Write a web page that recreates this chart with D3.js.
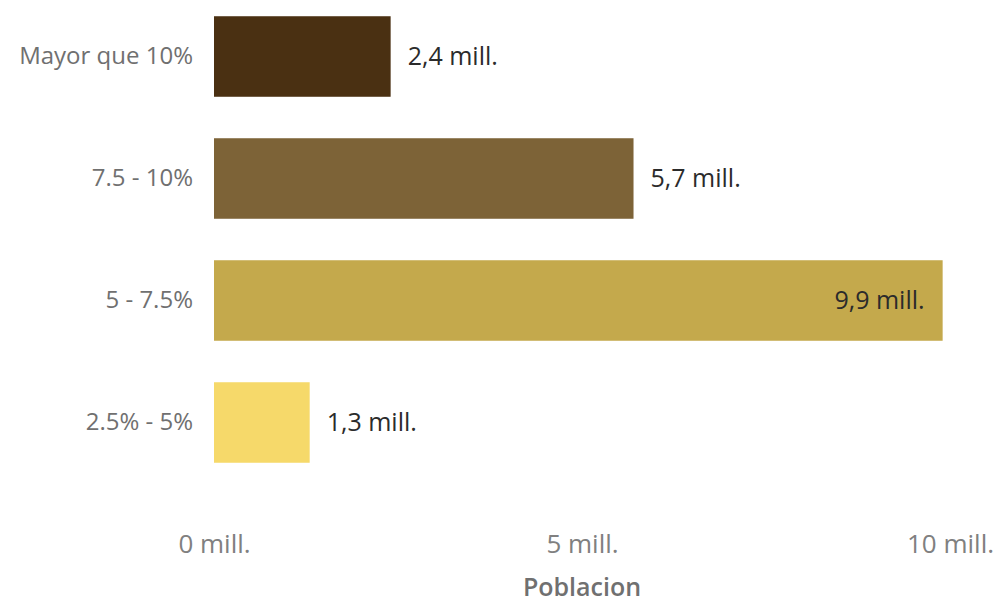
<!DOCTYPE html>
<html><head><meta charset="utf-8">
<script src="https://cdn.jsdelivr.net/npm/d3@7"></script>
<style>
html,body{margin:0;padding:0;background:#fff;}
svg{display:block;font-family:"Open Sans","Noto Sans",sans-serif;}
</style></head>
<body><svg id="chart" width="995" height="604"></svg>
<script>
const categories = ["Mayor que 10%", "7.5 - 10%", "5 - 7.5%", "2.5% - 5%"];
const values = [2.4, 5.7, 9.9, 1.3];
const valueLabels = ["2,4 mill.", "5,7 mill.", "9,9 mill.", "1,3 mill."];
const colors = ["#4a3012", "#7d6337", "#c4a94c", "#f6d96a"];
const tickValues = [0, 5, 10];
const tickLabels = ["0 mill.", "5 mill.", "10 mill."];
const axisTitle = "Poblacion";

const svg = d3.select("#chart");
const x = d3.scaleLinear().domain([0, 10]).range([214, 950]);
const y = d3.scaleBand().domain(categories).range([-4.5, 483.5]).paddingInner(0.34).paddingOuter(0.17);

svg.append("g").selectAll("rect").data(values).join("rect")
  .attr("x", x(0))
  .attr("y", (d, i) => y(categories[i]))
  .attr("width", d => x(d) - x(0))
  .attr("height", y.bandwidth())
  .attr("fill", (d, i) => colors[i]);

// value labels
svg.append("g").selectAll("text").data(values).join("text")
  .attr("x", d => d > 8 ? x(d) - 18 : x(d) + 17)
  .attr("y", (d, i) => y(categories[i]) + y.bandwidth() / 2)
  .attr("dy", "0.35em")
  .attr("text-anchor", d => d > 8 ? "end" : "start")
  .attr("font-size", 25)
  .attr("fill", "#2b2b2b")
  .text((d, i) => valueLabels[i]);

// category axis
const yAxis = d3.axisLeft(y).tickSize(0).tickPadding(21);
const gy = svg.append("g").attr("transform", `translate(${x(0)},0)`).call(yAxis)
  .attr("font-family", null).attr("font-size", null);
gy.select(".domain").remove();
gy.selectAll("text").attr("font-size", 24).attr("fill", "#707070");

// x axis
const xAxis = d3.axisBottom(x).tickValues(tickValues).tickFormat((d, i) => tickLabels[i]).tickSize(0).tickPadding(0);
const gx = svg.append("g").attr("transform", "translate(0,553)").call(xAxis)
  .attr("font-family", null).attr("font-size", null);
gx.select(".domain").remove();
gx.selectAll("text").attr("font-size", 26).attr("fill", "#808080").attr("dy", 0);

svg.append("text")
  .attr("x", (x(0) + x(10)) / 2)
  .attr("y", 596)
  .attr("text-anchor", "middle")
  .attr("font-size", 25)
  .attr("font-weight", 600)
  .attr("fill", "#707070")
  .text(axisTitle);
</script></body></html>
